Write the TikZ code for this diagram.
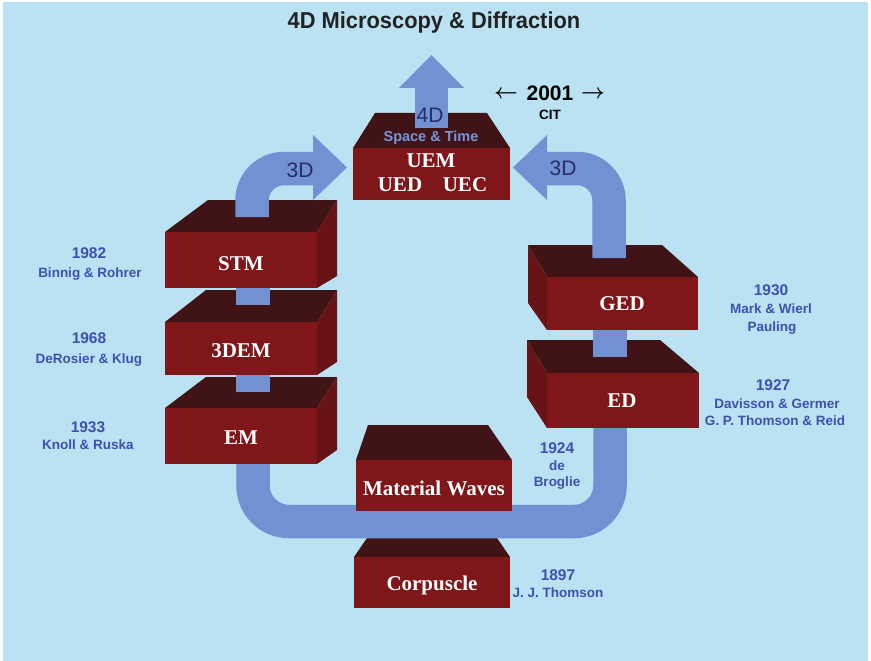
\documentclass[tikz,border=0pt]{standalone}
\usepackage{fontspec}
\setmainfont{Liberation Serif}
\newfontfamily\sansf{Liberation Sans}
\newfontfamily\titlef{Liberation Sans}[FakeStretch=0.95]
\definecolor{bgblue}{RGB}{186,226,243}
\definecolor{arrowblue}{RGB}{114,145,210}
\definecolor{boxfront}{RGB}{126,22,26}
\definecolor{boxtop}{RGB}{64,20,22}
\definecolor{boxside}{RGB}{104,19,22}
\definecolor{lblblue}{RGB}{62,80,176}
\definecolor{navy}{RGB}{38,46,105}
\definecolor{stblue}{RGB}{120,150,222}
\definecolor{titlegray}{RGB}{34,34,34}
\begin{document}
\begin{tikzpicture}[x=1pt,y=-1pt,
 topface/.style={fill=boxtop},
 frontface/.style={fill=boxfront},
 sideface/.style={fill=boxside},
 shaft/.style={draw=arrowblue,line width=33.5pt},
 arrowhead/.style={fill=arrowblue},
 boxtxt/.style={font=\fontsize{21}{24}\selectfont\bfseries, text=white, inner sep=0, anchor=base, yshift=-7pt},
 yeartxt/.style={font=\sansf\bfseries\fontsize{15.5}{18}\selectfont, text=lblblue, inner sep=0, anchor=base, yshift=-5.6pt},
 whotxt/.style={font=\sansf\bfseries\fontsize{13.5}{16}\selectfont, text=lblblue, inner sep=0, anchor=base, yshift=-4.9pt},
 dimtxt/.style={font=\sansf\fontsize{21}{24}\selectfont, text=navy, inner sep=0, anchor=base, yshift=-7.5pt}]

\useasboundingbox (0,0) rectangle (871,661);
\fill[white] (0,0) rectangle (871,661);
\fill[bgblue] (3,2) rectangle (868,661);

% ---------- top faces ----------
\fill[topface] (165,232) -- (208,200) -- (337,200) -- (317,232) -- cycle; % STM
\fill[topface] (165,322) -- (206,290) -- (337,290) -- (317,322) -- cycle; % 3DEM
\fill[topface] (165,408) -- (206,377) -- (337,377) -- (317,408) -- cycle; % EM
\fill[topface] (547,277) -- (528,245) -- (662,245) -- (698,277) -- cycle; % GED
\fill[topface] (547,373) -- (527,340) -- (660,340) -- (699,373) -- cycle; % ED
\fill[topface] (353,148) -- (375,113) -- (487,113) -- (510,148) -- cycle; % UEM
\fill[topface] (356,460) -- (368,425) -- (488,425) -- (512,460) -- cycle; % MW
\fill[topface] (354,557) -- (367,538) -- (497,538) -- (510,557) -- cycle; % Corpuscle

% ---------- shafts ----------
\coordinate (u1) at (253,455);
\coordinate (u2) at (253,521.5);
\coordinate (u3) at (610,521.5);
\coordinate (u4) at (610,420);
\draw[shaft, rounded corners=36pt] (u1) -- (u2) -- (u3) -- (u4);
\draw[shaft] (253,392) -- (253,365);
\draw[shaft] (253,305) -- (253,280);
\draw[shaft] (610,357) -- (610,320);
% left 3D arrow
\draw[shaft, rounded corners=32pt] (252,217) -- (252,168.5) -- (314,168.5);
\fill[arrowhead] (313,135) -- (347,167.5) -- (313,200) -- cycle;
% right 3D arrow
\draw[shaft, rounded corners=32pt] (609,258) -- (609,168.5) -- (546,168.5);
\fill[arrowhead] (547,135) -- (513,167.5) -- (547,200) -- cycle;
% 4D arrow
\draw[shaft] (431.5,128) -- (431.5,87);
\fill[arrowhead] (399,88) -- (431.5,55) -- (464,88) -- cycle;

% ---------- front and side faces ----------
\fill[sideface] (317,232) -- (337,200) -- (337,276) -- (317,288) -- cycle;
\fill[frontface] (165,232) rectangle (317,288);
\fill[sideface] (317,322) -- (337,290) -- (337,362) -- (317,375) -- cycle;
\fill[frontface] (165,322) rectangle (317,375);
\fill[sideface] (317,408) -- (337,377) -- (337,450) -- (317,464) -- cycle;
\fill[frontface] (165,408) rectangle (317,464);
\fill[sideface] (528,245) -- (547,277) -- (547,330) -- (528,303) -- cycle;
\fill[frontface] (547,277) rectangle (698,330);
\fill[sideface] (527,340) -- (547,373) -- (547,428) -- (527,397) -- cycle;
\fill[frontface] (547,373) rectangle (699,428);
\fill[frontface] (353,148) rectangle (510,200);
\fill[frontface] (356,460) rectangle (512,511);
\fill[frontface] (354,557) rectangle (510,608);

% ---------- box texts ----------
\node[boxtxt] (stm) at (241,263) {STM};
\node[boxtxt] (dem) at (241,350) {3DEM};
\node[boxtxt] (em) at (241,437) {EM};
\node[boxtxt] (ged) at (622,303) {GED};
\node[boxtxt] (ed) at (622,400) {ED};
\node[boxtxt] (uem) at (431,160) {UEM};
\node[boxtxt] (ued) at (400,184) {UED};
\node[boxtxt] (uec) at (465,184) {UEC};
\node[boxtxt] (mw) at (434,488) {Material Waves};
\node[boxtxt] (corp) at (432,583) {Corpuscle};

% ---------- arrow labels ----------
\node[dimtxt] (d4) at (430,115) {4D};
\node[font=\sansf\bfseries\fontsize{14.5}{17}\selectfont, text=stblue, inner sep=0, anchor=base, yshift=-5.2pt] (st) at (431,136) {Space \& Time};
\node[dimtxt] (d3l) at (300,170) {3D};
\node[dimtxt] (d3r) at (563,168) {3D};

% ---------- title and year ----------
\node[font=\titlef\bfseries\fontsize{23}{26}\selectfont, text=titlegray, inner sep=0, anchor=base, yshift=-8pt] (title) at (434,21) {4D Microscopy \& Diffraction};
\node[font=\sansf\bfseries\fontsize{21}{24}\selectfont, text=black, inner sep=0, anchor=base, yshift=-7.5pt] (y2001) at (550,93) {2001};
\node[font=\fontsize{21}{24}\selectfont\boldmath, inner sep=0] (la) at (506,94) {$\leftarrow$};
\node[font=\fontsize{21}{24}\selectfont\boldmath, inner sep=0] (ra) at (593,94) {$\rightarrow$};
\node[font=\sansf\bfseries\fontsize{13.5}{16}\selectfont, text=black, inner sep=0, anchor=base, yshift=-4.9pt] (cit) at (550,115) {CIT};

% ---------- side labels ----------
\node[yeartxt] (y1982) at (89,253) {1982};
\node[whotxt] (n1982) at (90,273) {Binnig \& Rohrer};
\node[yeartxt] (y1968) at (89,338) {1968};
\node[whotxt] (n1968) at (89,359) {DeRosier \& Klug};
\node[yeartxt] (y1933) at (88,427) {1933};
\node[whotxt] (n1933) at (88,445) {Knoll \& Ruska};
\node[yeartxt] (y1930) at (771,290) {1930};
\node[whotxt] (n1930a) at (771,309) {Mark \& Wierl};
\node[whotxt] (n1930b) at (772,327) {Pauling};
\node[yeartxt] (y1927) at (773,385) {1927};
\node[whotxt] (n1927a) at (777,404) {Davisson \& Germer};
\node[whotxt] (n1927b) at (775,421) {G. P. Thomson \& Reid};
\node[yeartxt] (y1924) at (557,448) {1924};
\node[whotxt] (n1924a) at (557,466) {de};
\node[whotxt] (n1924b) at (557,482) {Broglie};
\node[yeartxt] (y1897) at (558,575) {1897};
\node[whotxt] (n1897) at (558,593) {J. J. Thomson};
\end{tikzpicture}
\end{document}
